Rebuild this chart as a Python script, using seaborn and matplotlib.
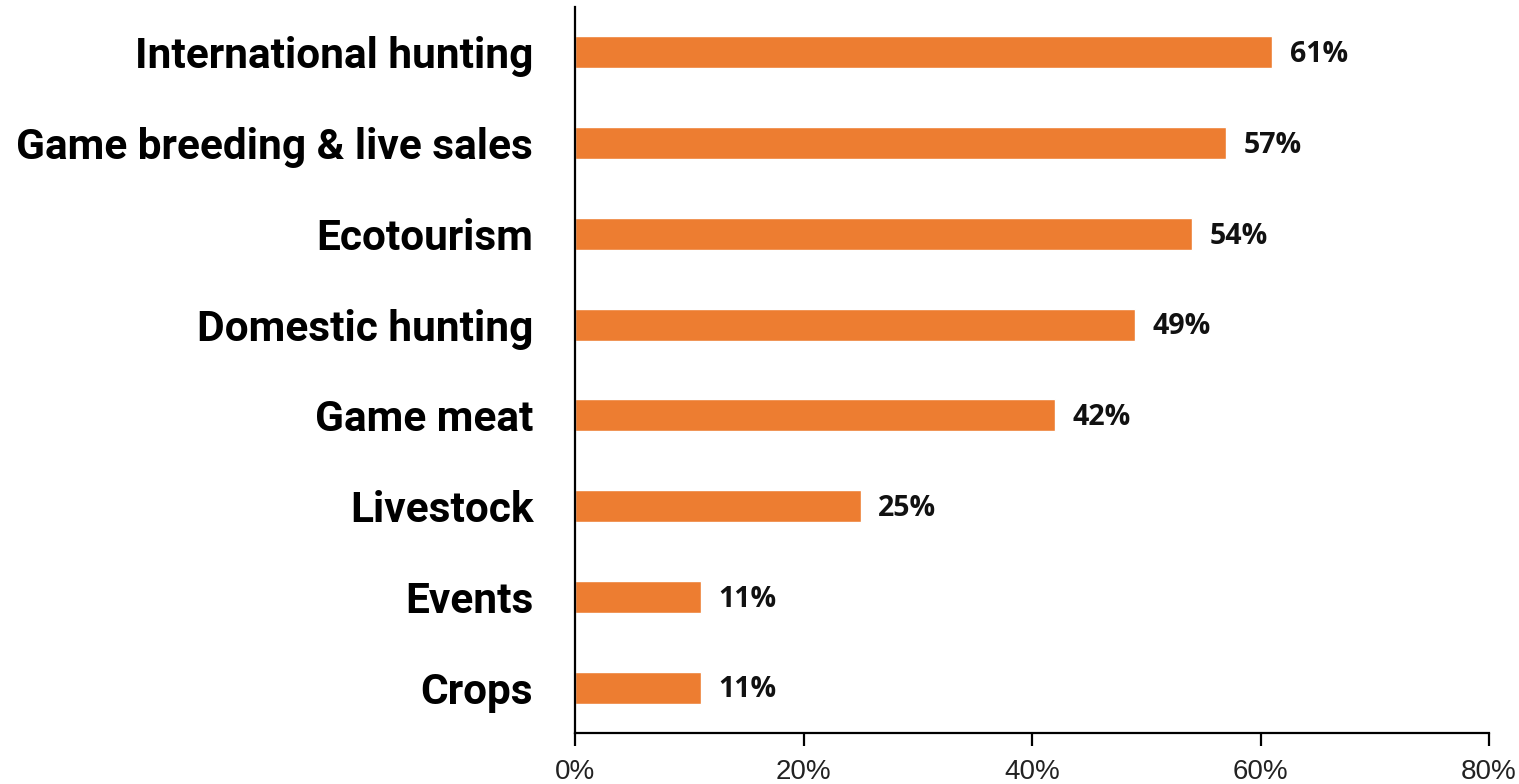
import matplotlib
matplotlib.use("Agg")
import matplotlib.pyplot as plt
import seaborn as sns
import pandas as pd
from matplotlib.ticker import FuncFormatter

categories = ["International hunting", "Game breeding & live sales", "Ecotourism",
              "Domestic hunting", "Game meat", "Livestock", "Events", "Crops"]
shares = [61, 57, 54, 49, 42, 25, 11, 11]
x_ticks = [0, 20, 40, 60, 80]

df = pd.DataFrame({"activity": categories, "share": shares})

sns.set_theme(style="white")
plt.rcParams["font.family"] = ["Roboto", "DejaVu Sans"]

fig = plt.figure(figsize=(15.19, 7.84), dpi=100)
ax = fig.add_axes([575 / 1519, 1 - 733 / 784, (1489 - 575) / 1519, (733 - 7) / 784])

sns.barplot(data=df, x="share", y="activity", orient="h", color="#ED7D31",
            saturation=1, width=0.35, ax=ax)

for i, v in enumerate(shares):
    ax.text(v + 1.55, i + 0.025, f"{v}%", va="center", ha="left",
            fontsize=20.5, fontweight="bold", color="#111111",
            family=["Open Sans", "DejaVu Sans"])

ax.set_xlim(0, 80)
ax.set_ylim(7.5, -0.5)
ax.set_xticks(x_ticks)
ax.xaxis.set_major_formatter(FuncFormatter(lambda v, p: f"{v:.0f}%"))
ax.set_xlabel("")
ax.set_ylabel("")

for s in ["top", "right"]:
    ax.spines[s].set_visible(False)
for s in ["left", "bottom"]:
    ax.spines[s].set_color("black")
    ax.spines[s].set_linewidth(1.6)

ax.tick_params(axis="x", bottom=True, length=9, width=1.6, color="black",
               labelsize=20, pad=10, labelcolor="#222222")
ax.tick_params(axis="y", left=False, pad=24)
for lab in ax.get_xticklabels():
    lab.set_fontfamily(["Liberation Sans", "DejaVu Sans"])
for lab in ax.get_yticklabels():
    lab.set_fontsize(30.5)
    lab.set_fontweight("bold")
    lab.set_color("black")

fig.savefig("out.png", dpi=100)
